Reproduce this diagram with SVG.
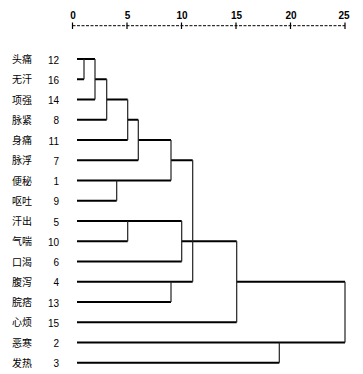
<svg xmlns="http://www.w3.org/2000/svg" width="363" height="374" viewBox="0 0 363 374">
<style>
.lbl{font-family:"Liberation Sans","Noto Sans CJK SC",sans-serif;font-size:10px;fill:#000}
.num{font-family:"Liberation Sans",sans-serif;font-size:10px;fill:#000;text-anchor:end}
.ax{font-family:"Liberation Sans",sans-serif;font-size:10px;font-weight:bold;fill:#000;text-anchor:middle}
.h{stroke:#000;stroke-width:1.8;fill:none}
.v{stroke:#222;stroke-width:1.2;fill:none}
</style>
<rect width="363" height="374" fill="#fff"/>
<g id="axis">
<line x1="72.5" y1="25.7" x2="345" y2="25.7" stroke="#000" stroke-width="1" stroke-dasharray="3,1.5"/>
<path d="M72.5 22.5V29M127 22.5V29M181.5 22.5V29M236 22.5V29M290.5 22.5V29M345 22.5V29" stroke="#000" stroke-width="1.2"/>
<text class="ax" x="73" y="18.5">0</text>
<text class="ax" x="127.5" y="18.5">5</text>
<text class="ax" x="182" y="18.5">10</text>
<text class="ax" x="236.5" y="18.5">15</text>
<text class="ax" x="291" y="18.5">20</text>
<text class="ax" x="344" y="18.5">25</text>
</g>
<g id="n12"><text class="lbl" x="12" y="63">头痛</text><text class="num" x="59" y="63.5">12</text></g>
<g id="n16"><text class="lbl" x="12" y="83">无汗</text><text class="num" x="59" y="83.5">16</text></g>
<g id="n14"><text class="lbl" x="12" y="103.5">项强</text><text class="num" x="59" y="104">14</text></g>
<g id="n8"><text class="lbl" x="12" y="123.5">脉紧</text><text class="num" x="59" y="124">8</text></g>
<g id="n11"><text class="lbl" x="12" y="144">身痛</text><text class="num" x="59" y="144.5">11</text></g>
<g id="n7"><text class="lbl" x="12" y="164">脉浮</text><text class="num" x="59" y="164.5">7</text></g>
<g id="n1"><text class="lbl" x="12" y="184.5">便秘</text><text class="num" x="59" y="185">1</text></g>
<g id="n9"><text class="lbl" x="12" y="204.5">呕吐</text><text class="num" x="59" y="205">9</text></g>
<g id="n5"><text class="lbl" x="12" y="225">汗出</text><text class="num" x="59" y="225.5">5</text></g>
<g id="n10"><text class="lbl" x="12" y="245">气喘</text><text class="num" x="59" y="245.5">10</text></g>
<g id="n6"><text class="lbl" x="12" y="265.5">口渴</text><text class="num" x="59" y="266">6</text></g>
<g id="n4"><text class="lbl" x="12" y="285.5">腹泻</text><text class="num" x="59" y="286">4</text></g>
<g id="n13"><text class="lbl" x="12" y="306">脘痞</text><text class="num" x="59" y="306.5">13</text></g>
<g id="n15"><text class="lbl" x="12" y="326">心烦</text><text class="num" x="59" y="326.5">15</text></g>
<g id="n2"><text class="lbl" x="12" y="346.5">恶寒</text><text class="num" x="59" y="347">2</text></g>
<g id="n3"><text class="lbl" x="12" y="366.5">发热</text><text class="num" x="59" y="367">3</text></g>
<g id="connectors">
<path class="h" d="M77 59H95M77 79.25H84M77 99.5H95M95 79.25H106.7M77 119.75H106.7M106.7 99.5H127.7M77 140H127.7M127.7 119.75H138.3M77 160.25H138.3M138.3 140H171M77 180.5H171M77 200.75H116.7M171 160.25H192.7M77 221H181.7M77 241.25H127.7M77 261.5H181.7M181.7 241.25H236.7M77 281.75H192.7M77 302H171M77 322.25H236.7M236.7 281.75H345M77 342.5H345M77 362.75H279.3"/>
<path class="v" d="M84 59V79.25M95 59V99.5M106.7 79.25V119.75M127.7 99.5V140M138.3 119.75V160.25M116.7 180.5V200.75M171 140V180.5M127.7 221V241.25M181.7 221V261.5M171 281.75V302M192.7 160.25V281.75M236.7 241.25V322.25M279.3 342.5V362.75M345 281.75V342.5"/>
</g>
</svg>
